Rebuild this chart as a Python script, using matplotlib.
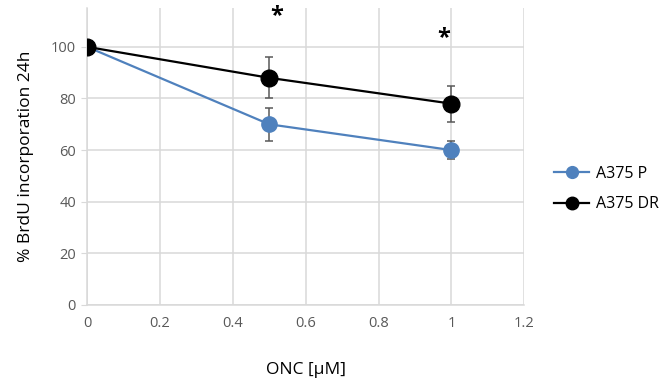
import matplotlib.pyplot as plt
from matplotlib.lines import Line2D

plt.rcParams["font.family"] = ["Open Sans", "DejaVu Sans"]

conc = [0, 0.5, 1]
p_vals = [100, 70, 60]
p_err = [0, 6.5, 3.5]
dr_vals = [100, 88, 78]
dr_err = [0, 8, 7]
star_x = [0.52, 0.98]
star_y = [112, 103.5]

blue = "#4f81bd"
grid_col = "#d9d9d9"
tick_col = "#595959"

fig = plt.figure(figsize=(6.7, 3.88), dpi=100)
ax = fig.add_axes([0.130, 0.214, 0.6526, 0.765])

ax.errorbar(conc, p_vals, yerr=p_err, color=blue, lw=1.6, marker="o", ms=11,
            ecolor=tick_col, elinewidth=1.1, capsize=3, capthick=1.1, zorder=3)
ax.errorbar(conc, dr_vals, yerr=dr_err, color="black", lw=1.6, marker="o", ms=12,
            ecolor=tick_col, elinewidth=1.1, capsize=3, capthick=1.1, zorder=4)

for x, y in zip(star_x, star_y):
    ax.text(x, y, "*", ha="center", va="center", fontsize=17, fontweight="bold")

ax.set_xlim(0, 1.2)
ax.set_ylim(0, 115)
ax.set_xticks([0, 0.2, 0.4, 0.6, 0.8, 1, 1.2])
ax.set_xticklabels(["0", "0.2", "0.4", "0.6", "0.8", "1", "1.2"])
ax.set_yticks([0, 20, 40, 60, 80, 100])
ax.grid(True, color=grid_col, lw=1.1)
ax.set_axisbelow(True)
for side in ["top", "right"]:
    ax.spines[side].set_visible(False)
ax.spines["left"].set_color(grid_col)
ax.spines["bottom"].set_color(grid_col)
ax.spines["left"].set_linewidth(1.1)
ax.spines["bottom"].set_linewidth(1.1)
ax.tick_params(axis="y", length=4, color=grid_col, labelcolor=tick_col, labelsize=10.5, pad=4)
ax.tick_params(axis="x", length=0, labelcolor=tick_col, labelsize=10.5, pad=8)

ax.set_xlabel("ONC [µM]", fontsize=12.5, labelpad=22)
ax.set_ylabel("% BrdU incorporation 24h", fontsize=12.5, labelpad=12)

# legend shows line + marker only
handles = [
    Line2D([], [], color=blue, lw=1.6, marker="o", ms=8.5),
    Line2D([], [], color="black", lw=1.6, marker="o", ms=9),
]
ax.legend(handles, ["A375 P", "A375 DR"], loc="center left",
          bbox_to_anchor=(1.035, 0.39), frameon=False, fontsize=11.5,
          handlelength=2.2, labelspacing=0.9, handletextpad=0.4)

fig.savefig("out.png", dpi=100)
